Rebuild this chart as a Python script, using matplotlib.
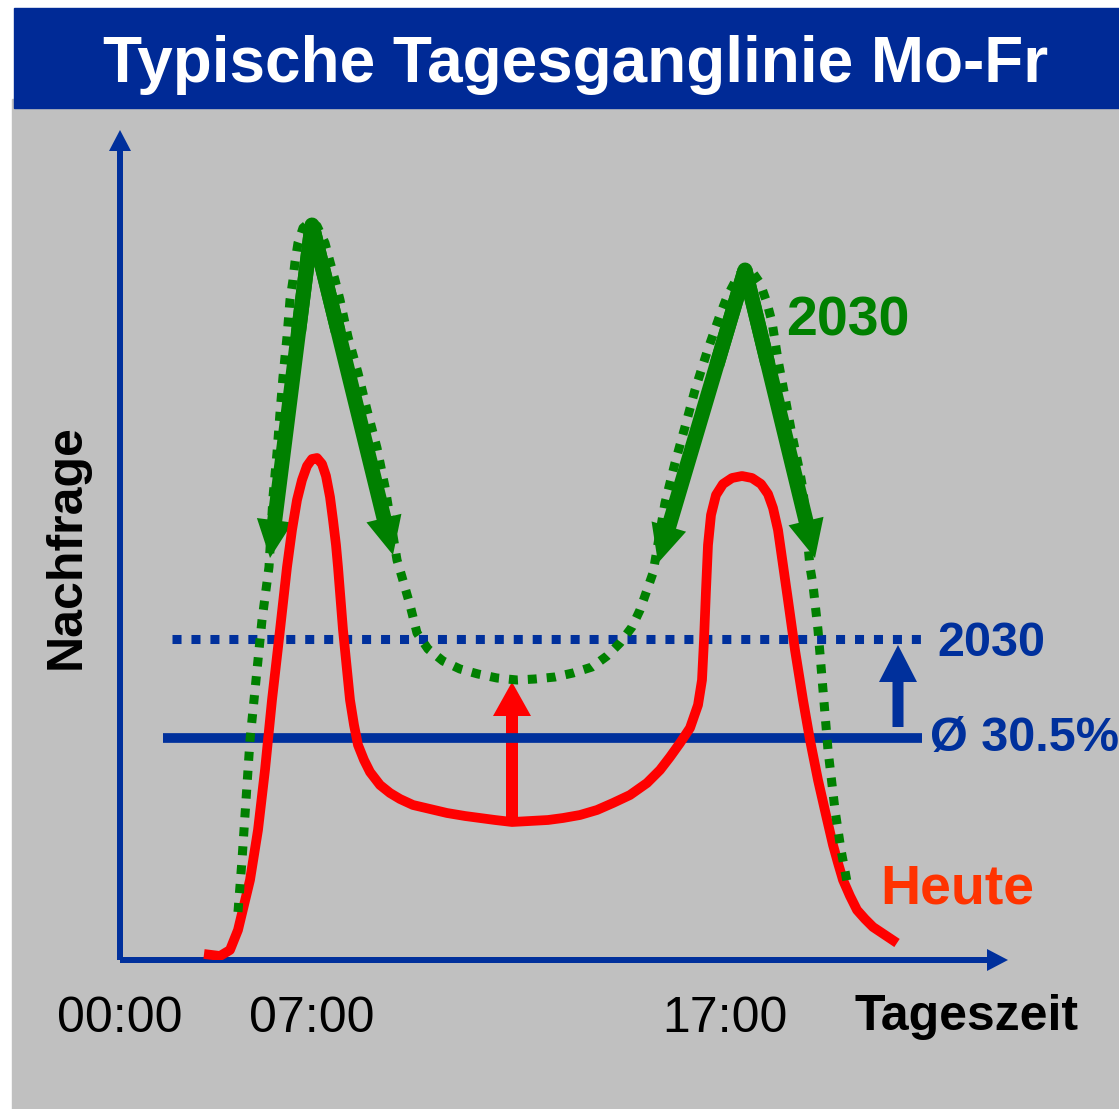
import numpy as np
import matplotlib
matplotlib.use("Agg")
import matplotlib.pyplot as plt
from matplotlib.patches import Rectangle

W, H = 1119, 1109

# demand curves, x = time position, y = demand (arbitrary units)
heute_x = [84, 100, 110, 118, 124, 130, 138, 145, 152, 160, 167, 172, 177, 182, 187, 192, 197,
           202, 206, 210, 213, 216, 218, 223, 227, 230, 234, 238, 244, 250, 260, 270, 280, 293,
           310, 327, 345, 360, 375, 392, 410, 428, 443, 460, 477, 493, 510, 527, 540, 550, 560,
           570, 578, 582, 584, 586, 588, 591, 596, 603, 612, 622, 632, 641, 648, 653, 658, 663,
           668, 675, 683, 690, 698, 706, 713, 718, 723, 730, 737, 745, 753, 765, 777]
heute_y = [6, 4, 10, 30, 55, 80, 130, 190, 260, 330, 393, 430, 460, 480, 494, 501, 502,
           496, 484, 463, 440, 415, 393, 330, 290, 260, 235, 215, 200, 188, 175, 167, 161, 155,
           151, 147, 144, 142, 140, 138, 139, 140, 142, 145, 150, 157, 165, 177, 190, 203, 217,
           232, 255, 280, 320, 370, 415, 445, 465, 476, 482, 484, 482, 476, 466, 452, 430, 395,
           360, 310, 260, 220, 180, 145, 115, 97, 80, 64, 50, 41, 33, 25, 17]

zukunft_x = [118, 122, 126, 130, 136, 142, 149, 153, 157, 160, 163, 167, 170, 173, 175, 178, 183,
             190, 197, 205, 210, 215, 220, 228, 238, 247, 257, 265, 277, 282, 290, 297, 308, 323,
             340, 358, 377, 397, 415, 435, 453, 472, 487, 500, 512, 520, 527, 533, 545, 555, 565,
             575, 587, 600, 607, 617, 625, 633, 640, 647, 652, 658, 665, 672, 680, 683, 690, 693,
             698, 703, 708, 715, 721, 728]
zukunft_y = [48, 100, 160, 220, 280, 340, 393, 463, 507, 547, 583, 623, 660, 680, 698, 717, 732,
             738, 734, 717, 698, 680, 660, 623, 587, 550, 512, 473, 400, 383, 355, 327, 311, 299,
             291, 286, 282, 280, 281, 283, 287, 293, 304, 317, 333, 350, 370, 387, 457, 497, 533,
             570, 608, 645, 663, 682, 692, 687, 677, 657, 638, 600, 563, 525, 487, 470, 393, 375,
             330, 270, 210, 150, 110, 73]

# peak arrows: start (peak) and end points
peak_arrows = [((192, 735), (150, 402)), ((192, 735), (273, 405)),
               ((625, 690), (538, 397)), ((625, 690), (695, 402))]

mean_heute = 222
mean_2030 = 321
mean_x = (43, 802)
mean_2030_x = (52, 807)
x_max, y_max = 888, 830

blue = "#00309C"
green = "#008000"
red = "#FF0000"

plt.rcParams["font.family"] = ["Liberation Sans", "DejaVu Sans"]

fig = plt.figure(figsize=(W / 100, H / 100), dpi=100)
fig.patch.set_facecolor("white")
fig.patches.append(Rectangle((12 / W, 0), (W - 12) / W, (H - 99) / H,
                             transform=fig.transFigure, color="#C0C0C0", zorder=-2))
fig.patches.append(Rectangle((14 / W, 1 - 108 / H), (W - 14) / W, 100 / H,
                             transform=fig.transFigure, color="#002A96", zorder=-1))

ax = fig.add_axes([120 / W, (H - 960) / H, x_max / W, y_max / H])
ax.set_zorder(1)
ax.set_xlim(0, x_max)
ax.set_ylim(0, y_max)
ax.axis("off")
ax.patch.set_alpha(0)

# axes
ax.arrow(0, 0, x_max, 0, width=6, head_width=22, head_length=21, length_includes_head=True,
         color=blue, lw=0, clip_on=False)
ax.arrow(0, 0, 0, y_max, width=6, head_width=22, head_length=21, length_includes_head=True,
         color=blue, lw=0, clip_on=False)

# average lines
ax.plot(mean_x, [mean_heute, mean_heute], color=blue, lw=7, solid_capstyle="butt")
ax.plot(mean_2030_x, [mean_2030, mean_2030], color=blue, lw=6.5, linestyle=(0, (1, 1.1)))

# curves
ax.plot(heute_x, heute_y, color=red, lw=7, solid_joinstyle="round", solid_capstyle="butt")
ax.plot(zukunft_x, zukunft_y, color=green, lw=6.5, linestyle=(0, (1, 1.1)))

for (x0, y0), (x1, y1) in peak_arrows:
    ax.arrow(x0, y0, x1 - x0, y1 - y0, width=15, head_width=36, head_length=38,
             length_includes_head=True, color=green, lw=0, clip_on=False)
for i in (0, 2):
    (px, py), (lx, ly) = peak_arrows[i]
    rx, ry = peak_arrows[i + 1][1]
    ax.plot([px + (lx - px) * 0.3, px, px + (rx - px) * 0.3],
            [py + (ly - py) * 0.3, py, py + (ry - py) * 0.3],
            color=green, lw=10.8, solid_joinstyle="round")

# increase arrows
ax.arrow(392, 138, 0, 278 - 138, width=12, head_width=38, head_length=34,
         length_includes_head=True, color=red, lw=0)
ax.arrow(778, 233, 0, 315 - 233, width=11, head_width=38, head_length=37,
         length_includes_head=True, color=blue, lw=0)


def ftext(x, y, s, **kw):
    fig.text(x / W, 1 - y / H, s, **kw)


ftext(576, 82, "Typische Tagesganglinie Mo-Fr", ha="center", va="baseline",
      fontsize=46, weight="bold", color="white")
ftext(848, 335, "2030", ha="center", va="baseline", fontsize=40, weight="bold", color=green)
ftext(937, 656, "2030", ha="left", va="baseline", fontsize=35, weight="bold", color=blue)
ftext(930, 751, "Ø 30.5%", ha="left", va="baseline", fontsize=35, weight="bold", color=blue)
ftext(880, 903, "Heute", ha="left", va="baseline", fontsize=40, weight="bold", color="#FF3300")
ftext(67, 547, "Nachfrage", ha="center", va="center", rotation=90, fontsize=36,
      weight="bold", color="black")
for lab, xc in [("00:00", 120), ("07:00", 312), ("17:00", 725)]:
    ftext(xc, 1032, lab, ha="center", va="baseline", fontsize=36, color="black")
ftext(967, 1030, "Tageszeit", ha="center", va="baseline", fontsize=36, weight="bold",
      color="black")

fig.savefig("out.png", dpi=100)
